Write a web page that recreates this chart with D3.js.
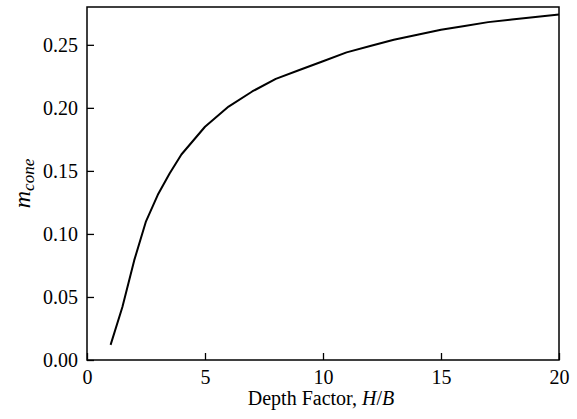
<!DOCTYPE html>
<html>
<head>
<meta charset="utf-8">
<script src="https://cdn.jsdelivr.net/npm/d3@7.9.0/dist/d3.min.js"></script>
<style>
  body { margin: 0; background: #fff; }
  svg { display: block; font-family: "Liberation Serif", "Times New Roman", serif; }
</style>
</head>
<body>
<svg width="577" height="419"></svg>
<script>
// depth factor H/B and cone coefficient
const depth = [1, 1.5, 2, 2.5, 3, 3.5, 4, 5, 6, 7, 8, 9, 10, 11, 12, 13, 14, 15, 16, 17, 18, 19, 20];
const mCone = [0.012, 0.042, 0.079, 0.110, 0.131, 0.148, 0.163, 0.185, 0.201, 0.213, 0.223, 0.230, 0.237,
  0.244, 0.249, 0.254, 0.258, 0.262, 0.265, 0.268, 0.270, 0.272, 0.274];
const xTicks = [0, 5, 10, 15, 20];
const yTicks = [0, 0.05, 0.10, 0.15, 0.20, 0.25];

const margin = { top: 7, right: 18, bottom: 59, left: 87 };
const svg = d3.select('svg');
const width = 577 - margin.left - margin.right;
const height = 419 - margin.top - margin.bottom;

const x = d3.scaleLinear().domain([0, 20]).range([0, width]);
const y = d3.scaleLinear().domain([0, 0.28]).range([height, 0]);

const g = svg.append('g').attr('transform', `translate(${margin.left},${margin.top})`);

const xAxis = g.append('g')
  .attr('transform', `translate(0,${height})`)
  .call(d3.axisBottom(x).tickValues(xTicks).tickSizeInner(-7).tickSizeOuter(0).tickPadding(6).tickFormat(d3.format('d')));

const yAxis = g.append('g')
  .call(d3.axisLeft(y).tickValues(yTicks).tickSizeInner(-7).tickSizeOuter(0).tickPadding(9).tickFormat(d3.format('.2f')));

[xAxis, yAxis].forEach((ax) => {
  ax.select('.domain').remove();
  ax.selectAll('.tick line').attr('stroke', '#000').attr('stroke-width', 1.3);
  ax.selectAll('.tick text').attr('fill', '#000').attr('font-size', 20)
    .attr('font-family', '"Liberation Serif", serif');
});
xAxis.selectAll('.tick text').attr('dy', '0.9em');

// frame
g.append('rect')
  .attr('width', width).attr('height', height)
  .attr('fill', 'none').attr('stroke', '#000').attr('stroke-width', 1.5);

const line = d3.line().x((d, i) => x(depth[i])).y((d) => y(d));
g.append('path')
  .datum(mCone)
  .attr('fill', 'none')
  .attr('stroke', '#000')
  .attr('stroke-width', 2)
  .attr('stroke-linejoin', 'round')
  .attr('d', line);

// axis labels
const xl = svg.append('text')
  .attr('x', 321)
  .attr('y', 405)
  .attr('text-anchor', 'middle')
  .attr('font-size', 20);
xl.append('tspan').text('Depth Factor, ');
xl.append('tspan').attr('font-style', 'italic').text('H');
xl.append('tspan').text('/');
xl.append('tspan').attr('font-style', 'italic').text('B');

const yl = svg.append('text')
  .attr('transform', `translate(30,${margin.top + height / 2}) rotate(-90)`)
  .attr('text-anchor', 'middle')
  .attr('font-style', 'italic');
yl.append('tspan').attr('font-size', 24).text('m');
yl.append('tspan').attr('font-size', 17).attr('dy', 4).text('cone');
</script>
</body>
</html>
